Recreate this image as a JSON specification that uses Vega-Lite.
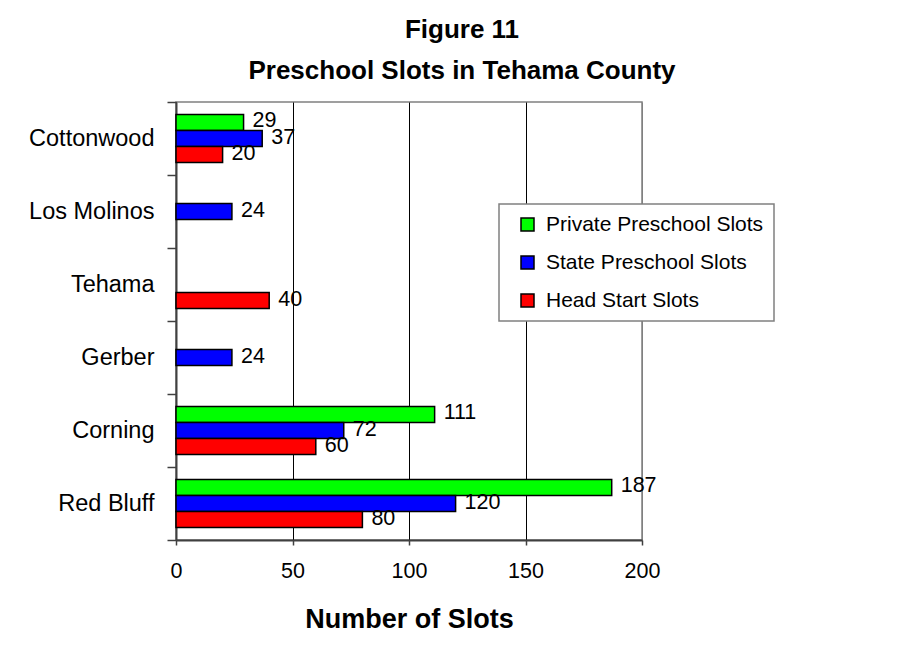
{
  "$schema": "https://vega.github.io/schema/vega-lite/v6.json",
  "width": 466,
  "height": 438,
  "autosize": "none",
  "padding": {"left": 176, "top": 102, "right": 261, "bottom": 110},
  "background": "white",
  "title": {
    "text": ["Figure 11", "Preschool Slots in Tehama County"],
    "fontSize": 26,
    "fontWeight": "bold",
    "lineHeight": 41,
    "anchor": "middle",
    "dx": 53,
    "offset": 6,
    "color": "black"
  },
  "data": {
    "values": [
      {"town": "Cottonwood", "type": "Private Preschool Slots", "slots": 29},
      {"town": "Cottonwood", "type": "State Preschool Slots", "slots": 37},
      {"town": "Cottonwood", "type": "Head Start Slots", "slots": 20},
      {"town": "Los Molinos", "type": "State Preschool Slots", "slots": 24},
      {"town": "Tehama", "type": "Head Start Slots", "slots": 40},
      {"town": "Gerber", "type": "State Preschool Slots", "slots": 24},
      {"town": "Corning", "type": "Private Preschool Slots", "slots": 111},
      {"town": "Corning", "type": "State Preschool Slots", "slots": 72},
      {"town": "Corning", "type": "Head Start Slots", "slots": 60},
      {"town": "Red Bluff", "type": "Private Preschool Slots", "slots": 187},
      {"town": "Red Bluff", "type": "State Preschool Slots", "slots": 120},
      {"town": "Red Bluff", "type": "Head Start Slots", "slots": 80}
    ]
  },
  "encoding": {
    "y": {
      "field": "town",
      "type": "nominal",
      "sort": ["Cottonwood", "Los Molinos", "Tehama", "Gerber", "Corning", "Red Bluff"],
      "scale": {"paddingInner": 0, "paddingOuter": 0},
      "title": null,
      "axis": {
        "tickBand": "extent",
        "grid": false,
        "tickSize": 9,
        "tickWidth": 1.5,
        "tickColor": "#404040",
        "domainColor": "#404040",
        "domainWidth": 2,
        "labelFontSize": 23.5,
        "labelColor": "black",
        "labelPadding": 13,
        "labelLimit": 300
      }
    },
    "yOffset": {
      "field": "type",
      "type": "nominal",
      "scale": {
        "domain": ["Private Preschool Slots", "State Preschool Slots", "Head Start Slots"],
        "paddingInner": 0,
        "paddingOuter": 0.78
      }
    },
    "x": {
      "field": "slots",
      "type": "quantitative",
      "scale": {"domain": [0, 200], "nice": false},
      "title": "Number of Slots",
      "axis": {
        "values": [0, 50, 100, 150, 200],
        "grid": true,
        "gridColor": {"condition": {"test": "datum.value == 200", "value": "#808080"}, "value": "black"},
        "gridWidth": 1,
        "tickSize": 5,
        "tickWidth": 1.5,
        "tickColor": "#404040",
        "domainColor": "#404040",
        "domainWidth": 2,
        "labelFontSize": 21.5,
        "labelColor": "black",
        "labelPadding": 15,
        "labelFlush": false,
        "titleFontSize": 27,
        "titleFontWeight": "bold",
        "titleColor": "black",
        "titlePadding": 25
      }
    }
  },
  "layer": [
    {
      "mark": {"type": "bar", "stroke": "black", "strokeWidth": 1.5},
      "encoding": {
        "color": {
          "field": "type",
          "type": "nominal",
          "scale": {
            "domain": ["Private Preschool Slots", "State Preschool Slots", "Head Start Slots"],
            "range": ["#00FF00", "#0000FF", "#FF0000"]
          },
          "legend": {
            "orient": "none",
            "legendX": 323,
            "legendY": 102,
            "direction": "vertical",
            "title": null,
            "symbolType": "square",
            "symbolSize": 169,
            "symbolStrokeColor": "black",
            "symbolStrokeWidth": 1.5,
            "symbolOpacity": 1,
            "symbolOffset": 8,
            "labelFontSize": 21,
            "labelColor": "black",
            "labelOffset": 8,
            "labelLimit": 400,
            "rowPadding": 16
          }
        }
      }
    },
    {
      "mark": {"type": "text", "align": "left", "baseline": "middle", "dx": 9, "dy": -1, "fontSize": 21.5, "color": "black"},
      "encoding": {"text": {"field": "slots", "type": "quantitative"}}
    }
  ],
  "config": {
    "font": "Liberation Sans",
    "view": {"stroke": "#808080", "strokeWidth": 1.5},
    "legend": {
      "fillColor": "white",
      "strokeColor": "#808080",
      "strokeWidth": 1.5,
      "padding": 10,
      "cornerRadius": 0
    }
  }
}
